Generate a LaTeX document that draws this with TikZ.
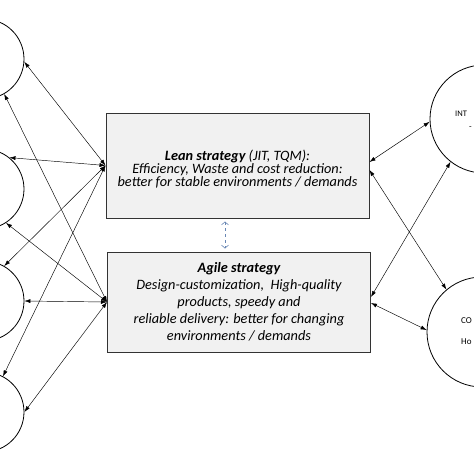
\documentclass[tikz,border=0pt]{standalone}
\usepackage{fontspec}
\setmainfont{Carlito}
\usetikzlibrary{arrows.meta}
\tikzset{>={Latex[length=6pt,width=4pt]}}
\definecolor{boxgrey}{RGB}{241,241,241}
\definecolor{dashblue}{RGB}{105,135,180}
\tikzset{
  factor/.style={circle,draw,line width=0.8pt,minimum size=80pt,inner sep=0pt},
  strategy/.style={draw=black!80,line width=1pt,fill=boxgrey,minimum width=263pt,align=center,inner sep=0pt,font=\itshape\fontsize{14.3}{13}\selectfont},
  link/.style={<->,line width=0.45pt},
  tag/.style={anchor=west,inner sep=0pt}
}
\begin{document}
\begin{tikzpicture}[x=1pt,y=-1pt]
  \useasboundingbox (0,0) rectangle (474,474);
  % factors on the left
  \foreach \i/\y in {1/59,2/189,3/301,4/412}
    \node[factor] (c\i) at (-16,\y) {};
  % factors on the right
  \node[factor,minimum size=108pt] (r1) at (484,119) {};
  \node[factor,minimum size=110pt] (r2) at (482,332) {};
  \node[tag,font=\fontsize{8.5}{9}\selectfont] (r1a) at (455,114) {INT};
  \node[tag,font=\fontsize{8.5}{9}\selectfont] (r1b) at (469,128) {-};
  \node[tag,font=\fontsize{9}{10}\selectfont] (r2a) at (461,321) {CO};
  \node[tag,font=\fontsize{9}{10}\selectfont] (r2b) at (461,342) {Ho};
  % strategies
  \node[strategy,minimum height=105pt] (lean) at (237.5,165.5)
    {\rule{0pt}{17pt}\textbf{Lean strategy} (JIT, TQM):\\ Efficiency, Waste and cost reduction:\\ better for stable environments / demands};
  \node[strategy,minimum height=100pt,font=\itshape\fontsize{14.3}{17}\selectfont] (agile) at (239,302)
    {\textbf{Agile strategy}\\ Design-customization,\ \ High-quality\\ products, speedy and\\ reliable delivery: better for changing\\ environments / demands};
  \draw [dashed,dashblue,line width=0.6pt,{Straight Barb[length=3pt,width=7pt]}-{Straight Barb[length=3pt,width=7pt]}]
    ([xshift=-12.5pt,yshift=-3pt]lean.south) -- ([xshift=-14pt,yshift=3pt]agile.north);
  % left links
  \draw [link] (lean.west) -- (c1.-4);
  \draw [link] (lean.west) -- (c2.51);
  \draw [link] (lean.west) -- (c3.60);
  \draw [link] (lean.west) -- (c4.62);
  \draw [link] (agile.west) -- (c1.-60);
  \draw [link] (agile.west) -- (c2.-57);
  \draw [link] (agile.west) -- (c3.0);
  \draw [link] (agile.west) -- (c4.0);
  % right links
  \draw [link] ([yshift=3.5pt]lean.east) -- (r1.183);
  \draw [link] ([yshift=-4.5pt]lean.east) -- (r2.130);
  \draw [link] ([yshift=5pt]agile.east) -- (r1.232);
  \draw [link] ([yshift=-1pt]agile.east) -- (r2.178);
\end{tikzpicture}
\end{document}
